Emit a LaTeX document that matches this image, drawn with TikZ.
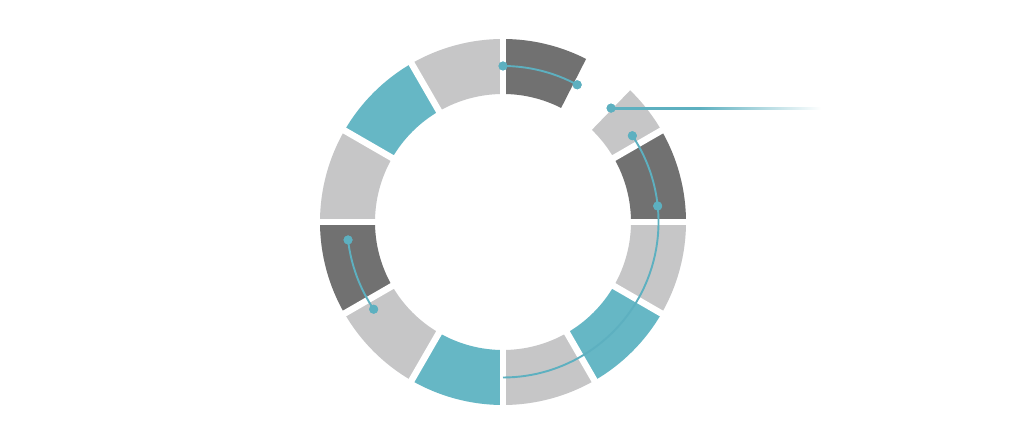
\documentclass[tikz,border=0pt]{standalone}
\usetikzlibrary{calc}
\definecolor{dgray}{HTML}{717171}
\definecolor{lgray}{HTML}{C6C6C7}
\definecolor{tealseg}{HTML}{66B7C5}
\definecolor{tealline}{HTML}{5DB0C0}
\pgfdeclarehorizontalshading{fadeline}{100bp}{color(0bp)=(tealline); color(25bp)=(tealline); color(46bp)=(tealline); color(75bp)=(white); color(100bp)=(white)}
\begin{document}
\begin{tikzpicture}[x=0.2mm,y=0.2mm,
  gapline/.style={white,line width=1.3mm},
  conn/.style={tealline,line width=0.38mm},
  dot/.style={circle,fill=tealline,inner sep=0pt,minimum size=1.8mm}]
\useasboundingbox[fill=white] (0,0) rectangle (1024,448);
\coordinate (O) at (503,226);
\newcommand\ringseg[3]{\fill[#3] ($(O)+(#1:183)$) arc[start angle=#1,end angle=#2,radius=36.6mm] -- ($(O)+(#2:128)$) arc[start angle=#2,end angle=#1,radius=25.6mm] -- cycle;}
\ringseg{63}{90}{dgray}
\ringseg{30}{46}{lgray}
\ringseg{0}{30}{dgray}
\ringseg{-30}{0}{lgray}
\ringseg{-60}{-30}{tealseg}
\ringseg{-90}{-60}{lgray}
\ringseg{-120}{-90}{tealseg}
\ringseg{-150}{-120}{lgray}
\ringseg{-180}{-150}{dgray}
\ringseg{150}{180}{lgray}
\ringseg{120}{150}{tealseg}
\ringseg{90}{120}{lgray}
\foreach \a in {0,30,...,330} \draw[gapline] ($(O)+(\a:120)$) -- ($(O)+(\a:190)$);
% dots
\node[dot] (t1) at ($(O)+(90:156)$) {};
\node[dot] (t2) at ($(O)+(61.6:156)$) {};
\node[dot] (h) at ($(O)+(46.5:157)$) {};
\node[dot] (r1) at ($(O)+(33.7:155.5)$) {};
\node[dot] (r2) at ($(O)+(5.9:155.5)$) {};
\node[dot] (l1) at ($(O)+(186.6:156)$) {};
\node[dot] (l2) at ($(O)+(214:156)$) {};
\coordinate (hend) at ($(h.center)+(210,0)$);
% connectors
\draw[conn] (t1.center) arc[start angle=90,end angle=61.6,radius=31.2mm];
\draw[conn] (r1.center) arc[start angle=33.7,end angle=-90,radius=31.1mm];
\draw[conn] (l1.center) arc[start angle=186.6,end angle=214,radius=31.2mm];
\shade[shading=fadeline] ($(h.center)+(0,-0.95)$) rectangle ($(hend)+(0,0.95)$);
% redraw dots on top
\foreach \n in {t1,t2,h,r1,r2,l1,l2} \fill[tealline] (\n.center) circle[radius=0.9mm];
\end{tikzpicture}
\end{document}
